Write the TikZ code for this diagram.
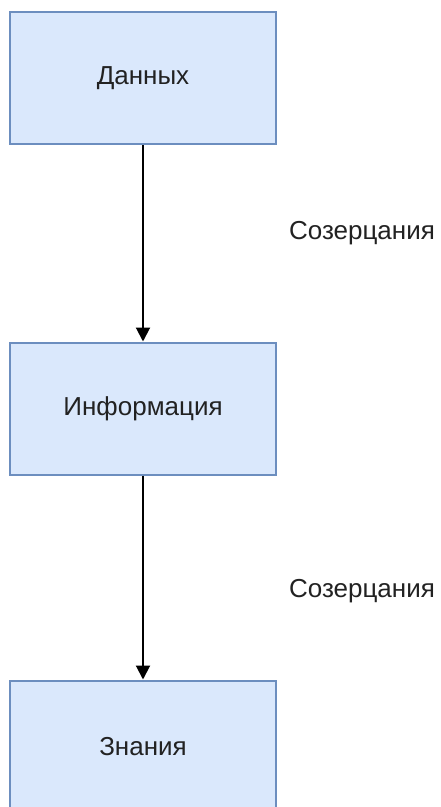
\documentclass[tikz,border=0pt]{standalone}
\usepackage{fontspec}
\setmainfont{Liberation Sans}
\usetikzlibrary{arrows.meta}
\definecolor{boxfill}{HTML}{DAE8FC}
\definecolor{boxline}{HTML}{6C8EBF}
\definecolor{txt}{HTML}{222222}
\begin{document}
\begin{tikzpicture}[x=1pt,y=-1pt,
  blk/.style={draw=boxline,fill=boxfill,line width=2pt,minimum width=266pt,minimum height=132pt,inner sep=0pt,font=\fontsize{26}{31}\selectfont,text=txt},
  lbl/.style={font=\fontsize{26}{31}\selectfont,text=txt,inner sep=0pt},
  conn/.style={line width=2pt,-{Triangle[length=14pt,width=14pt]}}]
\useasboundingbox (0,0) rectangle (440,807);
\clip (0,0) rectangle (440,807);
\node[blk] (a) at (143,78) {Данных};
\node[blk] (b) at (143,408.5) {Информация};
\node[blk] (c) at (143,746.5) {Знания};
\draw[conn] (a.south) -- (b.north);
\draw[conn] (b.south) -- (c.north);
\node[lbl] (l1) at (362,233) {Созерцания};
\node[lbl] (l2) at (362,591) {Созерцания};
\end{tikzpicture}
\end{document}
